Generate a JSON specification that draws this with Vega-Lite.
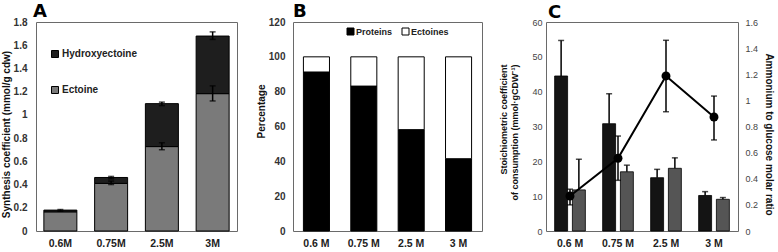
{
  "$schema": "https://vega.github.io/schema/vega-lite/v6.json",
  "padding": {"left": 0, "top": 2, "right": 0, "bottom": 0},
  "bounds": "flush",
  "spacing": 56,
  "resolve": {"scale": {"color": "independent"}, "legend": {"color": "independent"}},
  "datasets": {
    "a": [
      {"salt": "0.6M", "compound": "Ectoine", "value": 0.165},
      {"salt": "0.6M", "compound": "Hydroxyectoine", "value": 0.015},
      {"salt": "0.75M", "compound": "Ectoine", "value": 0.41},
      {"salt": "0.75M", "compound": "Hydroxyectoine", "value": 0.051},
      {"salt": "2.5M", "compound": "Ectoine", "value": 0.727},
      {"salt": "2.5M", "compound": "Hydroxyectoine", "value": 0.37},
      {"salt": "3M", "compound": "Ectoine", "value": 1.183},
      {"salt": "3M", "compound": "Hydroxyectoine", "value": 0.496}
    ],
    "aerr": [
      {"salt": "0.6M", "lo": 0.17, "hi": 0.185},
      {"salt": "0.75M", "lo": 0.40, "hi": 0.43},
      {"salt": "0.75M", "lo": 0.45, "hi": 0.47},
      {"salt": "2.5M", "lo": 0.70, "hi": 0.76},
      {"salt": "2.5M", "lo": 1.08, "hi": 1.11},
      {"salt": "3M", "lo": 1.12, "hi": 1.25},
      {"salt": "3M", "lo": 1.65, "hi": 1.715}
    ],
    "b": [
      {"salt": "0.6 M", "part": "Proteins", "value": 91.3},
      {"salt": "0.6 M", "part": "Ectoines", "value": 8.7},
      {"salt": "0.75 M", "part": "Proteins", "value": 83.2},
      {"salt": "0.75 M", "part": "Ectoines", "value": 16.8},
      {"salt": "2.5 M", "part": "Proteins", "value": 58.2},
      {"salt": "2.5 M", "part": "Ectoines", "value": 41.8},
      {"salt": "3 M", "part": "Proteins", "value": 41.5},
      {"salt": "3 M", "part": "Ectoines", "value": 58.5}
    ],
    "c": [
      {"salt": "0.6 M", "series": "Glucose", "value": 44.5, "hi": 54.7},
      {"salt": "0.6 M", "series": "Ammonium", "value": 11.8, "hi": 20.6},
      {"salt": "0.75 M", "series": "Glucose", "value": 30.8, "hi": 39.4},
      {"salt": "0.75 M", "series": "Ammonium", "value": 17.0, "hi": 18.9},
      {"salt": "2.5 M", "series": "Glucose", "value": 15.3, "hi": 17.7},
      {"salt": "2.5 M", "series": "Ammonium", "value": 18.0, "hi": 21.0},
      {"salt": "3 M", "series": "Glucose", "value": 10.2, "hi": 11.3},
      {"salt": "3 M", "series": "Ammonium", "value": 9.1, "hi": 9.6}
    ],
    "r": [
      {"salt": "0.6 M", "ratio": 0.268, "lo": 0.20, "hi": 0.32},
      {"salt": "0.75 M", "ratio": 0.557, "lo": 0.388, "hi": 0.727},
      {"salt": "2.5 M", "ratio": 1.187, "lo": 0.913, "hi": 1.46},
      {"salt": "3 M", "ratio": 0.873, "lo": 0.697, "hi": 1.033}
    ]
  },
  "config": {
    "view": {"stroke": "#6a6a6a", "strokeWidth": 1},
    "font": "Liberation Sans",
    "axis": {
      "grid": false, "ticks": false, "domain": false,
      "labelOverlap": false, "labelFlush": false,
      "labelFont": "Liberation Sans", "titleFont": "Liberation Sans",
      "labelFontWeight": "bold", "titleFontWeight": "bold",
      "labelColor": "#333333", "titleColor": "#111111",
      "labelFontSize": 10, "titleFontSize": 10
    },
    "axisX": {"labelAngle": 0, "labelFontSize": 10.5, "labelPadding": 7, "labelColor": "#222222"},
    "legend": {
      "labelFont": "Liberation Sans", "labelFontSize": 10, "labelFontWeight": "bold",
      "labelColor": "#222222", "symbolType": "square", "symbolSize": 49,
      "symbolStrokeColor": "#000000", "symbolStrokeWidth": 1, "padding": 0, "labelOffset": 2
    },
    "title": {"font": "DejaVu Sans", "fontSize": 18, "fontWeight": "bold", "anchor": "start", "frame": "group", "color": "#000000", "offset": -4}
  },
  "hconcat": [
    {
      "title": {"text": "A", "dx": -3},
      "width": 201, "height": 209,
      "layer": [
        {
          "data": {"name": "a"},
          "mark": {"type": "bar", "stroke": "#000000", "strokeWidth": 1},
          "encoding": {
            "x": {"field": "salt", "type": "nominal", "sort": ["0.6M", "0.75M", "2.5M", "3M"], "scale": {"paddingInner": 0.35, "paddingOuter": 0.155}, "axis": {"title": null}},
            "y": {"field": "value", "type": "quantitative", "stack": "zero", "scale": {"domain": [0, 1.8]},
                  "axis": {"title": "Synthesis coefficient (mmol/g cdw)", "values": [0, 0.2, 0.4, 0.6, 0.8, 1, 1.2, 1.4, 1.6, 1.8], "format": "~g", "labelOverlap": false, "labelPadding": 9, "titlePadding": 2, "titleY": 112}},
            "color": {"field": "compound", "type": "nominal", "scale": {"domain": ["Hydroxyectoine", "Ectoine"], "range": ["#1e1e1e", "#7a7a7a"]},
                      "legend": {"title": null, "orient": "none", "legendX": 14, "legendY": 27, "rowPadding": 24}},
            "order": {"field": "compound", "sort": "ascending"}
          }
        },
        {
          "data": {"name": "aerr"},
          "mark": {"type": "rule", "color": "#000000", "strokeWidth": 1.5},
          "encoding": {
            "x": {"field": "salt", "type": "nominal", "sort": ["0.6M", "0.75M", "2.5M", "3M"]},
            "y": {"field": "lo", "type": "quantitative", "axis": {"title": "Synthesis coefficient (mmol/g cdw)", "values": [0, 0.2, 0.4, 0.6, 0.8, 1, 1.2, 1.4, 1.6, 1.8], "format": "~g", "labelOverlap": false, "labelPadding": 9, "titlePadding": 2, "titleY": 112}},
            "y2": {"field": "hi"}
          }
        },
        {
          "data": {"name": "aerr"},
          "mark": {"type": "tick", "color": "#000000", "size": 6, "thickness": 1.5},
          "encoding": {
            "x": {"field": "salt", "type": "nominal", "sort": ["0.6M", "0.75M", "2.5M", "3M"]},
            "y": {"field": "lo", "type": "quantitative", "axis": {"title": "Synthesis coefficient (mmol/g cdw)", "values": [0, 0.2, 0.4, 0.6, 0.8, 1, 1.2, 1.4, 1.6, 1.8], "format": "~g", "labelOverlap": false, "labelPadding": 9, "titlePadding": 2, "titleY": 112}}
          }
        },
        {
          "data": {"name": "aerr"},
          "mark": {"type": "tick", "color": "#000000", "size": 6, "thickness": 1.5},
          "encoding": {
            "x": {"field": "salt", "type": "nominal", "sort": ["0.6M", "0.75M", "2.5M", "3M"]},
            "y": {"field": "hi", "type": "quantitative", "axis": {"title": "Synthesis coefficient (mmol/g cdw)", "values": [0, 0.2, 0.4, 0.6, 0.8, 1, 1.2, 1.4, 1.6, 1.8], "format": "~g", "labelOverlap": false, "labelPadding": 9, "titlePadding": 2, "titleY": 112}}
          }
        }
      ]
    },
    {
      "bounds": "flush",
      "spacing": 64,
      "resolve": {"scale": {"color": "independent"}, "legend": {"color": "independent"}},
      "hconcat": [
        {
          "title": {"text": "B"},
          "width": 189, "height": 209,
          "data": {"name": "b"},
          "mark": {"type": "bar", "stroke": "#000000", "strokeWidth": 1},
          "encoding": {
            "x": {"field": "salt", "type": "nominal", "sort": ["0.6 M", "0.75 M", "2.5 M", "3 M"], "scale": {"paddingInner": 0.45, "paddingOuter": 0.22}, "axis": {"title": null}},
            "y": {"field": "value", "type": "quantitative", "stack": "zero", "scale": {"domain": [0, 120]},
                  "axis": {"title": "Percentage", "values": [0, 20, 40, 60, 80, 100, 120], "labelOverlap": false, "labelPadding": 8, "titlePadding": 2, "titleY": 89}},
            "color": {"field": "part", "type": "nominal", "scale": {"domain": ["Proteins", "Ectoines"], "range": ["#000000", "#ffffff"]},
                      "legend": {"title": null, "orient": "none", "direction": "horizontal", "legendX": 53, "legendY": 5, "columnPadding": 7, "labelFontSize": 9, "labelOffset": 1}},
            "order": {"field": "part", "sort": "descending"}
          }
        },
        {
          "title": {"text": "C", "dx": 2},
          "width": 192, "height": 209,
          "layer": [
            {
              "data": {"name": "c"},
              "encoding": {
                "x": {"field": "salt", "type": "nominal", "sort": ["0.6 M", "0.75 M", "2.5 M", "3 M"], "scale": {"paddingInner": 0.36, "paddingOuter": 0.18}, "axis": {"title": null}},
                "xOffset": {"field": "series", "type": "nominal", "sort": ["Glucose", "Ammonium"], "scale": {"paddingInner": 0.27, "paddingOuter": 0}}
              },
              "layer": [
                {
                  "mark": {"type": "bar", "stroke": "#000000", "strokeWidth": 0.8},
                  "encoding": {
                    "y": {"field": "value", "type": "quantitative", "scale": {"domain": [0, 60]},
                          "axis": {"title": ["Stoichiometric coefficient", "of consumption (mmol·gCDW⁻¹)"], "values": [0, 10, 20, 30, 40, 50, 60], "labelOverlap": false, "labelFontWeight": "normal", "labelColor": "#444444", "labelFontSize": 9, "labelPadding": 4, "titlePadding": 12, "titleFontSize": 9, "titleAlign": "right", "titleY": 42}},
                    "color": {"field": "series", "type": "nominal", "scale": {"domain": ["Glucose", "Ammonium"], "range": ["#141414", "#555555"]}, "legend": null}
                  }
                },
                {
                  "mark": {"type": "rule", "color": "#000000", "strokeWidth": 1.5},
                  "encoding": {
                    "y": {"field": "value", "type": "quantitative",
                          "axis": {"title": ["Stoichiometric coefficient", "of consumption (mmol·gCDW⁻¹)"], "values": [0, 10, 20, 30, 40, 50, 60], "labelOverlap": false, "labelFontWeight": "normal", "labelColor": "#444444", "labelFontSize": 9, "labelPadding": 4, "titlePadding": 12, "titleFontSize": 9, "titleAlign": "right", "titleY": 42}},
                    "y2": {"field": "hi"}
                  }
                },
                {
                  "mark": {"type": "tick", "color": "#000000", "size": 6, "thickness": 1.5},
                  "encoding": {
                    "y": {"field": "hi", "type": "quantitative",
                          "axis": {"title": ["Stoichiometric coefficient", "of consumption (mmol·gCDW⁻¹)"], "values": [0, 10, 20, 30, 40, 50, 60], "labelOverlap": false, "labelFontWeight": "normal", "labelColor": "#444444", "labelFontSize": 9, "labelPadding": 4, "titlePadding": 12, "titleFontSize": 9, "titleAlign": "right", "titleY": 42}}
                  }
                }
              ]
            },
            {
              "data": {"name": "r"},
              "encoding": {
                "x": {"field": "salt", "type": "nominal", "sort": ["0.6 M", "0.75 M", "2.5 M", "3 M"]},
                "y": {"field": "ratio", "type": "quantitative", "scale": {"domain": [0, 1.6]},
                      "axis": {"orient": "right", "title": "Ammonium to glucose molar ratio", "values": [0, 0.2, 0.4, 0.6, 0.8, 1, 1.2, 1.4, 1.6], "format": "~g", "labelOverlap": false, "labelFontWeight": "normal", "labelColor": "#444444", "labelFontSize": 9, "labelPadding": 7, "titlePadding": 6, "titleY": 112}}
              },
              "layer": [
                {
                  "mark": {"type": "rule", "color": "#000000", "strokeWidth": 1.5},
                  "encoding": {
                    "y": {"field": "lo", "type": "quantitative", "scale": {"domain": [0, 1.6]},
                          "axis": {"orient": "right", "title": "Ammonium to glucose molar ratio", "values": [0, 0.2, 0.4, 0.6, 0.8, 1, 1.2, 1.4, 1.6], "format": "~g", "labelOverlap": false, "labelFontWeight": "normal", "labelColor": "#444444", "labelFontSize": 9, "labelPadding": 7, "titlePadding": 6, "titleY": 112}},
                    "y2": {"field": "hi"}
                  }
                },
                {
                  "mark": {"type": "tick", "color": "#000000", "size": 6, "thickness": 1.5},
                  "encoding": {"y": {"field": "lo", "type": "quantitative", "scale": {"domain": [0, 1.6]},
                          "axis": {"orient": "right", "title": "Ammonium to glucose molar ratio", "values": [0, 0.2, 0.4, 0.6, 0.8, 1, 1.2, 1.4, 1.6], "format": "~g", "labelOverlap": false, "labelFontWeight": "normal", "labelColor": "#444444", "labelFontSize": 9, "labelPadding": 7, "titlePadding": 6, "titleY": 112}}}
                },
                {
                  "mark": {"type": "tick", "color": "#000000", "size": 6, "thickness": 1.5},
                  "encoding": {"y": {"field": "hi", "type": "quantitative", "scale": {"domain": [0, 1.6]},
                          "axis": {"orient": "right", "title": "Ammonium to glucose molar ratio", "values": [0, 0.2, 0.4, 0.6, 0.8, 1, 1.2, 1.4, 1.6], "format": "~g", "labelOverlap": false, "labelFontWeight": "normal", "labelColor": "#444444", "labelFontSize": 9, "labelPadding": 7, "titlePadding": 6, "titleY": 112}}}
                },
                {
                  "mark": {"type": "line", "color": "#000000", "strokeWidth": 2}
                },
                {
                  "mark": {"type": "point", "filled": true, "color": "#000000", "opacity": 1, "size": 80}
                }
              ]
            }
          ],
          "resolve": {"scale": {"y": "independent"}}
        }
      ]
    }
  ]
}
